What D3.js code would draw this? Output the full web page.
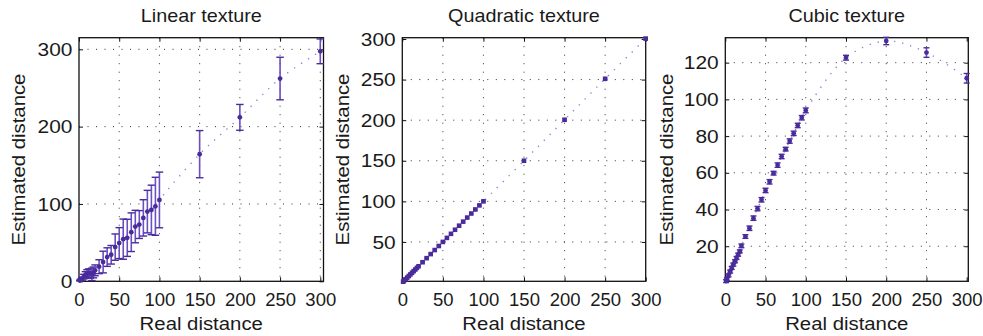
<!DOCTYPE html>
<html>
<head>
<meta charset="utf-8">
<title>Texture distance estimates</title>
<script src="https://d3js.org/d3.v7.min.js"></script>
<style>
  body { margin: 0; background: #fff; }
  svg { display: block; }
  text { font-family: "Liberation Sans", Arial, sans-serif; fill: #1a1a1a; }
  .domain { display: none; }
</style>
</head>
<body>
<div id="chart"></div>
<script>
  // real distances (same for all three panels)
  const xReal = [1, 2, 4, 6, 8, 10, 12, 14, 16, 18, 20, 25, 30, 35, 40, 45, 50, 55, 60, 65,
                 70, 75, 80, 85, 90, 95, 100, 150, 200, 250, 300];

  // estimated distance and error for each texture
  const linearEst = [1, 2, 3.5, 6, 8.5, 10, 11, 10, 9, 11.5, 14.2, 18.9, 24.9, 31.3, 34.3, 44.2,
                     49.4, 54.5, 56.2, 63.5, 70.8, 73.4, 82, 90.1, 92.3, 97, 105.2, 164.4, 212, 262.2, 297.4];
  const linearErr = [0.5, 1, 2, 3, 4, 5, 5, 6, 8, 7, 7, 9, 14, 12, 12, 17,
                     20, 26, 24, 25, 21, 18, 23.5, 27.5, 32, 37.5, 36, 30.5, 16.7, 27.5, 16];

  const quadEst = [1, 2, 4, 6, 8, 10, 12, 14, 16, 18, 20, 25, 30, 35, 40, 45,
                   50, 55, 60, 65, 70, 75, 80, 85, 90, 95, 100, 150, 200.5, 251, 300.5];
  const quadErr = [0.6, 0.6, 0.6, 0.6, 0.6, 0.6, 0.6, 0.6, 0.6, 0.6, 0.6, 0.8, 0.8, 0.8, 0.8, 0.8,
                   0.8, 0.8, 0.8, 0.8, 0.8, 0.8, 0.8, 0.8, 0.8, 0.8, 0.8, 1, 1.2, 1, 1];

  const cubicEst = [1, 2, 4.1, 6.2, 8.2, 10, 11.8, 13.6, 15.4, 17.2, 20.2, 25.3, 29.8, 35.3, 40.5, 45.3,
                    50.4, 55.1, 59.8, 64.2, 68.9, 72.9, 77.3, 81.5, 85.8, 90, 94, 122.7, 131.8, 125.5, 111.5];
  const cubicErr = [0.8, 0.8, 0.8, 0.8, 0.8, 0.8, 0.8, 0.8, 0.8, 0.8, 1, 1, 1.2, 1.2, 1.2, 1.2,
                    1.2, 1.2, 1, 1.2, 1.2, 1, 1.2, 1.2, 1.2, 1.2, 1.3, 1.3, 2, 2.6, 2.6];

  const xTicks = [0, 50, 100, 150, 200, 250, 300];
  const linearYTicks = [0, 100, 200, 300];
  const quadYTicks = [50, 100, 150, 200, 250, 300];
  const cubicYTicks = [20, 40, 60, 80, 100, 120];

  const titles = ["Linear texture", "Quadratic texture", "Cubic texture"];

  const panels = [
    { title: titles[0], est: linearEst, err: linearErr, yTicks: linearYTicks, marker: "circle",
      left: 79, right: 323.5, xMax: 304, yDom: [0, 315], cap: 7.5, ylabX: 25 },
    { title: titles[1], est: quadEst, err: quadErr, yTicks: quadYTicks, marker: "square",
      left: 402.3, right: 645.7, xMax: 300, yDom: [1.5, 301.6], cap: 4, ylabX: 349 },
    { title: titles[2], est: cubicEst, err: cubicErr, yTicks: cubicYTicks, marker: "circle",
      left: 725.3, right: 968.3, xMax: 302, yDom: [0.9, 133.6], cap: 6, ylabX: 673 }
  ];

  const width = 983, height = 336;
  const plotTop = 37.7, plotBottom = 281.3;
  const dark = "#4a2b9b", barCol = "#6a4fc0", curveCol = "#9380d8";
  const stretch = 1.1;

  const svg = d3.select("#chart").append("svg")
    .attr("width", width)
    .attr("height", height);

  // text with a little horizontal stretch, the original font is wider than Arial
  function label(x, y, str, size, rot) {
    svg.append("text")
      .attr("transform", `translate(${x},${y}) rotate(${rot || 0}) scale(${stretch},1)`)
      .attr("text-anchor", "middle")
      .style("font-size", size + "px")
      .text(str);
  }

  panels.forEach(function(p) {
    const x = d3.scaleLinear().domain([0, p.xMax]).range([p.left, p.right]);
    const y = d3.scaleLinear().domain(p.yDom).range([plotBottom, plotTop]);
    const g = svg.append("g");

    // dotted grid
    g.selectAll(".vgrid").data(xTicks.filter(t => t > 0 && x(t) < p.right - 2)).enter()
      .append("line")
      .attr("x1", d => x(d)).attr("x2", d => x(d))
      .attr("y1", plotTop).attr("y2", plotBottom)
      .attr("stroke", "#333").attr("stroke-width", 1)
      .attr("stroke-dasharray", "1,7.5");
    g.selectAll(".hgrid").data(p.yTicks.filter(t => y(t) < plotBottom - 2 && y(t) > plotTop + 2)).enter()
      .append("line")
      .attr("x1", p.left).attr("x2", p.right)
      .attr("y1", d => y(d)).attr("y2", d => y(d))
      .attr("stroke", "#333").attr("stroke-width", 1)
      .attr("stroke-dasharray", "1,7.5");

    // axes (ticks inward on all four sides)
    const axB = g.append("g").attr("transform", `translate(0,${plotBottom})`)
      .call(d3.axisBottom(x).tickValues(xTicks).tickSize(-4).tickPadding(12));
    g.append("g").attr("transform", `translate(0,${plotTop})`)
      .call(d3.axisTop(x).tickValues(xTicks).tickSize(-4).tickFormat(""));
    const axL = g.append("g").attr("transform", `translate(${p.left},0)`)
      .call(d3.axisLeft(y).tickValues(p.yTicks).tickSize(-4).tickPadding(6));
    g.append("g").attr("transform", `translate(0,0)`);
    g.append("g").attr("transform", `translate(${p.right},0)`)
      .call(d3.axisRight(y).tickValues(p.yTicks).tickSize(-4).tickFormat(""));
    g.selectAll(".tick line").attr("stroke", "#111");
    axB.selectAll("text").style("font-size", "18.5px").attr("dy", "0.71em");
    axL.selectAll("text").style("font-size", "19px")
      .attr("transform", `scale(${stretch},1)`);

    // box
    g.append("rect")
      .attr("x", p.left).attr("y", plotTop)
      .attr("width", p.right - p.left).attr("height", plotBottom - plotTop)
      .attr("fill", "none").attr("stroke", "#111").attr("stroke-width", 1.3);

    const pts = xReal.map((d, i) => ({ x: d, y: p.est[i], e: p.err[i] }));

    // dotted connecting curve
    g.append("path")
      .datum(pts)
      .attr("d", d3.line().x(d => x(d.x)).y(d => y(d.y)).curve(d3.curveCatmullRom))
      .attr("fill", "none")
      .attr("stroke", curveCol).attr("stroke-width", 1.4)
      .attr("stroke-dasharray", "1.3,7");

    // error bars
    const eb = g.selectAll(".eb").data(pts).enter().append("g");
    eb.append("line")
      .attr("x1", d => x(d.x)).attr("x2", d => x(d.x))
      .attr("y1", d => y(d.y - d.e)).attr("y2", d => y(d.y + d.e))
      .attr("stroke", barCol).attr("stroke-width", 1.6);
    [-1, 1].forEach(function(s) {
      eb.append("line")
        .attr("x1", d => x(d.x) - p.cap / 2).attr("x2", d => x(d.x) + p.cap / 2)
        .attr("y1", d => y(d.y + s * d.e)).attr("y2", d => y(d.y + s * d.e))
        .attr("stroke", dark).attr("stroke-width", 1.4);
    });

    // markers
    if (p.marker === "square") {
      g.selectAll(".mk").data(pts).enter().append("rect")
        .attr("x", d => x(d.x) - 2.3).attr("y", d => y(d.y) - 2.3)
        .attr("width", 4.6).attr("height", 4.6)
        .attr("fill", dark);
    } else {
      g.selectAll(".mk").data(pts).enter().append("circle")
        .attr("cx", d => x(d.x)).attr("cy", d => y(d.y))
        .attr("r", 2.4)
        .attr("fill", dark);
    }

    const cx = (p.left + p.right) / 2;
    label(cx, 22, p.title, 18);
    label(cx, 330, "Real distance", 18.5);
    label(p.ylabX, (plotTop + plotBottom) / 2, "Estimated distance", 18.5, -90);
  });
</script>
</body>
</html>
